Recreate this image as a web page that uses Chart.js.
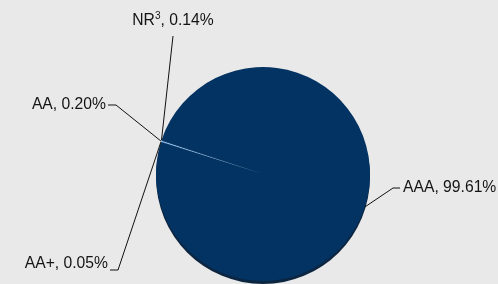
<!DOCTYPE html>
<html><head><meta charset="utf-8">
<script src="https://cdn.jsdelivr.net/npm/chart.js@4/dist/chart.umd.min.js"></script>
<style>html,body{margin:0;padding:0;background:#e9e9e9;overflow:hidden}</style>
</head>
<body>
<canvas id="c" width="498" height="284"></canvas>
<script>
// ---- data ----
const categories = ['AAA', 'AA+', 'AA', 'NR'];
const shares = [99.61, 0.05, 0.20, 0.14];
const valueLabels = ['99.61%', '0.05%', '0.20%', '0.14%'];
const superscripts = ['', '', '', '3'];

// ---- styling / layout (kept apart from data) ----
const sliceColors = ['#033363', '#1d4d80', '#8fc4f2', '#12406f'];
const labelLayout = {
  'AAA': { elbow: [393, 188], end: [400, 188], text: [403, 188], align: 'left' },
  'AA+': { elbow: [118, 270], end: [110, 270], text: [108, 264], align: 'right' },
  'AA':  { elbow: [116, 105], end: [108, 105], text: [106, 105], align: 'right' },
  'NR':  { elbow: [173, 36],  end: [173, 36],  text: [173, 21],  align: 'center' }
};
const FONT = '15.7px "Liberation Sans", Arial, sans-serif';
const SUPFONT = '10px "Liberation Sans", Arial, sans-serif';

const bgPlugin = {
  id: 'bg',
  beforeDraw(chart) {
    const c = chart.ctx;
    c.save(); c.fillStyle = '#e9e9e9';
    c.fillRect(0, 0, chart.width, chart.height); c.restore();
  }
};

const shadowPlugin = {
  id: 'shadow',
  beforeDatasetsDraw(chart) {
    const arc = chart.getDatasetMeta(0).data[0];
    if (!arc) return;
    const c = chart.ctx;
    c.save();
    c.fillStyle = '#0c2540';
    c.beginPath();
    c.arc(arc.x, arc.y + 3, arc.outerRadius, 0, Math.PI * 2);
    c.fill();
    c.restore();
  }
};

const labelPlugin = {
  id: 'leaders',
  afterDatasetsDraw(chart) {
    const c = chart.ctx;
    const meta = chart.getDatasetMeta(0);
    c.save();
    meta.data.forEach((arc, i) => {
      const lay = labelLayout[categories[i]];
      const mid = (arc.startAngle + arc.endAngle) / 2;
      const sx = arc.x + Math.cos(mid) * arc.outerRadius;
      const sy = arc.y + Math.sin(mid) * arc.outerRadius;
      c.strokeStyle = '#111';
      c.lineWidth = 1;
      c.beginPath();
      c.moveTo(sx, sy);
      c.lineTo(lay.elbow[0], lay.elbow[1]);
      c.lineTo(lay.end[0], lay.end[1]);
      c.stroke();

      const main = categories[i];
      const sup = superscripts[i];
      const rest = ', ' + valueLabels[i];
      c.font = FONT;
      const w1 = c.measureText(main).width;
      const w3 = c.measureText(rest).width;
      c.font = SUPFONT;
      const w2 = sup ? c.measureText(sup).width : 0;
      const total = w1 + w2 + w3;
      let x = lay.text[0];
      if (lay.align === 'right') x -= total;
      else if (lay.align === 'center') x -= total / 2;
      const y = lay.text[1];
      c.fillStyle = '#141414';
      c.textBaseline = 'middle';
      c.textAlign = 'left';
      c.font = FONT;
      c.fillText(main, x, y);
      if (sup) {
        c.font = SUPFONT;
        c.fillText(sup, x + w1, y - 5);
      }
      c.font = FONT;
      c.fillText(rest, x + w1 + w2, y);
    });
    c.restore();
  }
};

new Chart(document.getElementById('c'), {
  type: 'pie',
  data: {
    labels: categories,
    datasets: [{
      data: shares,
      backgroundColor: sliceColors,
      borderWidth: 0,
      hoverOffset: 0,
      offset: 0
    }]
  },
  options: {
    responsive: false,
    animation: false,
    rotation: -71.3,
    layout: { padding: { top: 67, bottom: 3, left: 156, right: 128 } },
    plugins: { legend: { display: false }, tooltip: { enabled: false } },
    events: []
  },
  plugins: [bgPlugin, shadowPlugin, labelPlugin]
});
</script>
</body></html>
